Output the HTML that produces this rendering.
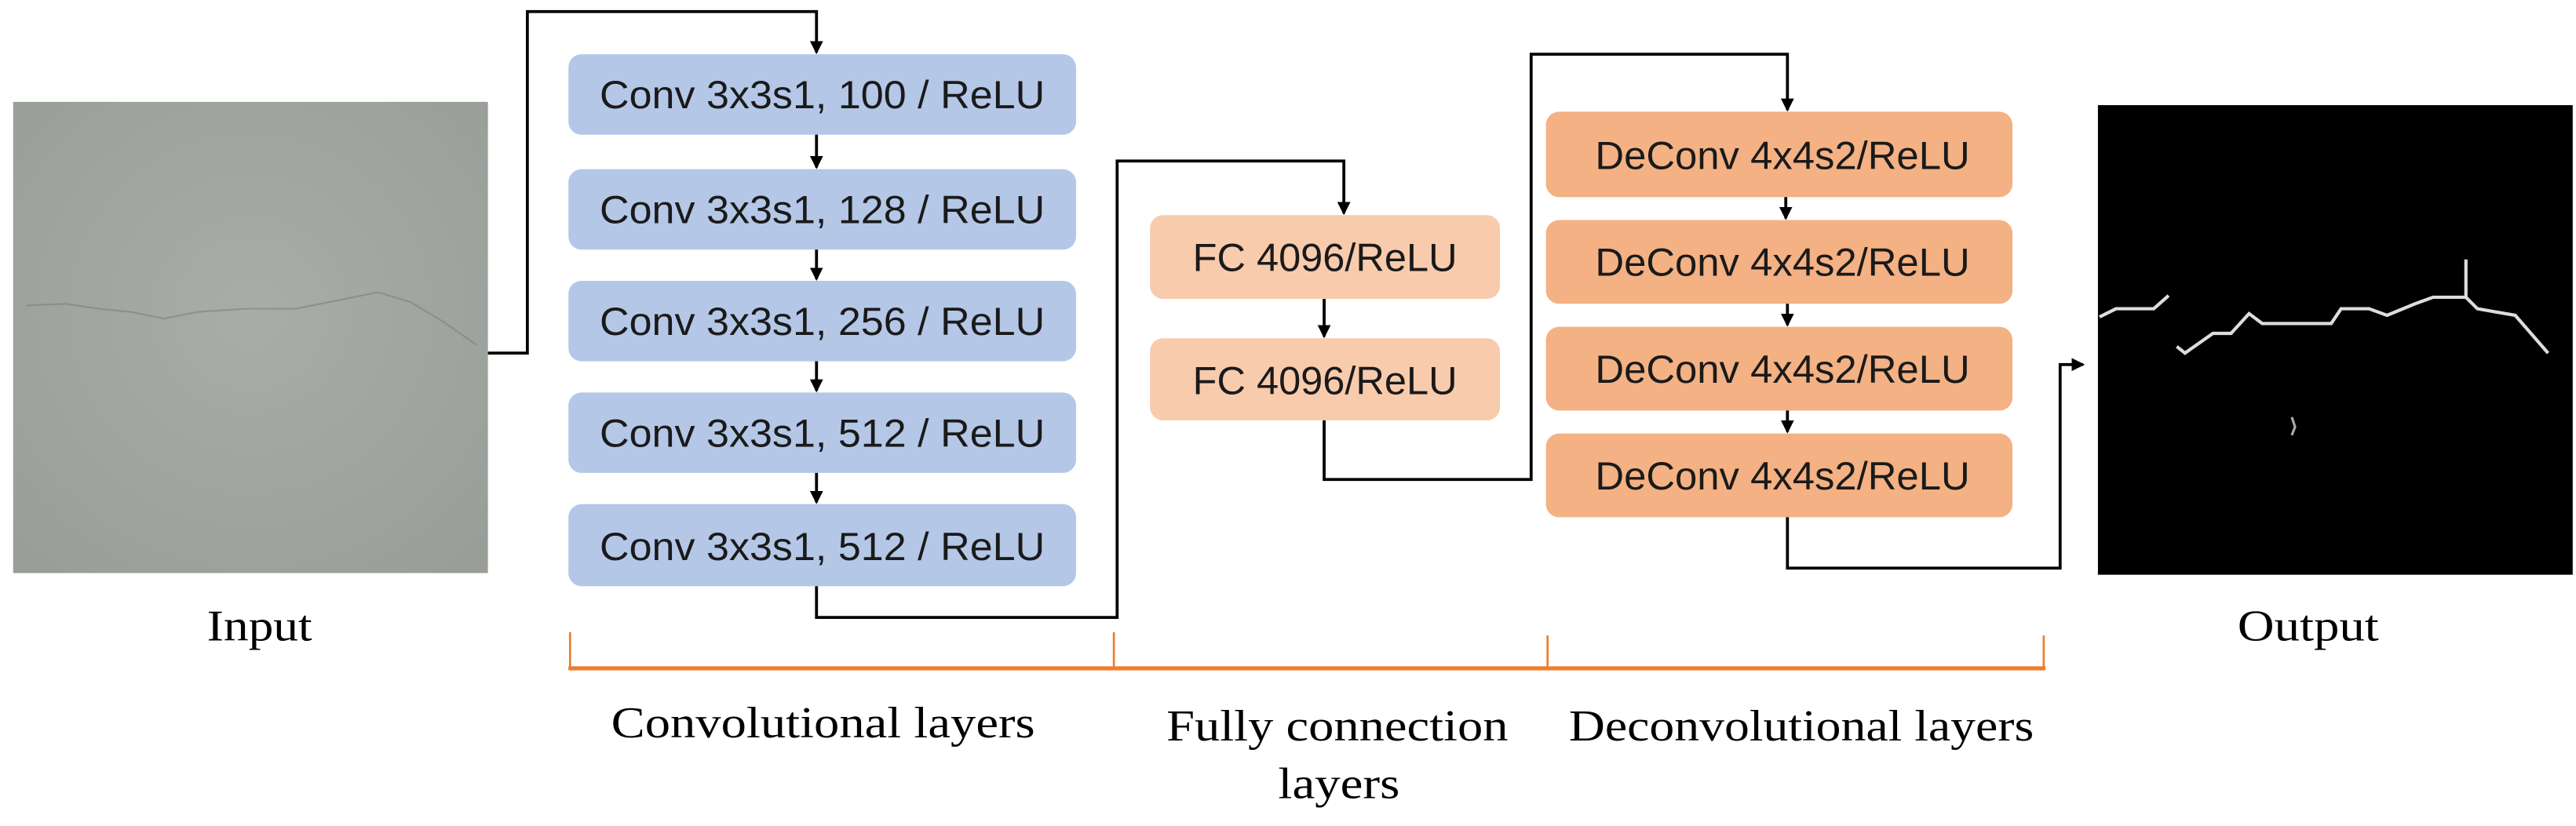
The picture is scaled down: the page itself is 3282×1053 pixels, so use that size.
<!DOCTYPE html>
<html><head><meta charset="utf-8"><style>
html,body{margin:0;padding:0;background:#fff;}
svg{display:block;}
.bx{font-family:"Liberation Sans",sans-serif;font-size:24px;fill:#1a1a1a;}
.lb{font-family:"Liberation Serif",serif;font-size:27px;fill:#000;}
</style></head><body>
<svg width="3282" height="1053" viewBox="0 0 1568 503" xmlns="http://www.w3.org/2000/svg">
<defs>
<marker id="a" markerWidth="8" markerHeight="8" refX="7" refY="4" orient="auto" markerUnits="userSpaceOnUse"><path d="M0,0 L8,4 L0,8 z" fill="#000"/></marker>
<radialGradient id="g" cx="50%" cy="45%" r="70%"><stop offset="0" stop-color="#a9ada8"/><stop offset="1" stop-color="#9a9e99"/></radialGradient>
</defs>
<rect width="1568" height="503" fill="#fff"/>
<!-- input -->
<rect x="8" y="62" width="289" height="287" fill="url(#g)"/>
<polyline points="16,186 40,185 60,188 80,190 100,194 120,190 150,188 180,188 200,184 230,178 250,184 270,196 290,210" fill="none" stroke="#7c807c" stroke-width="1" opacity="0.6"/>
<text class="lb" x="126" y="390" textLength="64" lengthAdjust="spacingAndGlyphs">Input</text>
<!-- output -->
<rect x="1277" y="64" width="289" height="286" fill="#000"/>
<polyline points="1278,193 1288,188 1311,188 1320,180" fill="none" stroke="#ddd" stroke-width="2"/>
<polyline points="1325,211 1330,215 1347,203 1358,203 1369,191 1377,197 1419,197 1425,188 1442,188 1453,192 1470,185 1481,181 1501,181 1501,158" fill="none" stroke="#ddd" stroke-width="2"/>
<polyline points="1501,181 1508,188 1531,192 1551,215" fill="none" stroke="#ddd" stroke-width="2"/>
<polyline points="1395,254 1397,260 1395,265" fill="none" stroke="#aaa" stroke-width="1.5"/>
<text class="lb" x="1362" y="390" textLength="86" lengthAdjust="spacingAndGlyphs">Output</text>
<!-- conv boxes -->
<g fill="#b4c7e7">
<rect x="346" y="33" width="309" height="49" rx="8"/>
<rect x="346" y="103" width="309" height="49" rx="8"/>
<rect x="346" y="171" width="309" height="49" rx="8"/>
<rect x="346" y="239" width="309" height="49" rx="8"/>
<rect x="346" y="307" width="309" height="50" rx="8"/>
</g>
<g class="bx">
<text x="365" y="66" textLength="271" lengthAdjust="spacingAndGlyphs">Conv 3x3s1, 100 / ReLU</text>
<text x="365" y="136" textLength="271" lengthAdjust="spacingAndGlyphs">Conv 3x3s1, 128 / ReLU</text>
<text x="365" y="204" textLength="271" lengthAdjust="spacingAndGlyphs">Conv 3x3s1, 256 / ReLU</text>
<text x="365" y="272" textLength="271" lengthAdjust="spacingAndGlyphs">Conv 3x3s1, 512 / ReLU</text>
<text x="365" y="341" textLength="271" lengthAdjust="spacingAndGlyphs">Conv 3x3s1, 512 / ReLU</text>
</g>
<!-- FC -->
<g fill="#f8cbad">
<rect x="700" y="131" width="213" height="51" rx="8"/>
<rect x="700" y="206" width="213" height="50" rx="8"/>
</g>
<g class="bx">
<text x="726" y="165" textLength="161" lengthAdjust="spacingAndGlyphs">FC 4096/ReLU</text>
<text x="726" y="240" textLength="161" lengthAdjust="spacingAndGlyphs">FC 4096/ReLU</text>
</g>
<!-- deconv -->
<g fill="#f4b183">
<rect x="941" y="68" width="284" height="52" rx="8"/>
<rect x="941" y="134" width="284" height="51" rx="8"/>
<rect x="941" y="199" width="284" height="51" rx="8"/>
<rect x="941" y="264" width="284" height="51" rx="8"/>
</g>
<g class="bx">
<text x="971" y="103" textLength="228" lengthAdjust="spacingAndGlyphs">DeConv 4x4s2/ReLU</text>
<text x="971" y="168" textLength="228" lengthAdjust="spacingAndGlyphs">DeConv 4x4s2/ReLU</text>
<text x="971" y="233" textLength="228" lengthAdjust="spacingAndGlyphs">DeConv 4x4s2/ReLU</text>
<text x="971" y="298" textLength="228" lengthAdjust="spacingAndGlyphs">DeConv 4x4s2/ReLU</text>
</g>
<!-- connectors -->
<g fill="none" stroke="#000" stroke-width="1.8">
<polyline points="297,215 321,215 321,7 497,7 497,32" marker-end="url(#a)"/>
<line x1="497" y1="82" x2="497" y2="102" marker-end="url(#a)"/>
<line x1="497" y1="152" x2="497" y2="170" marker-end="url(#a)"/>
<line x1="497" y1="220" x2="497" y2="238" marker-end="url(#a)"/>
<line x1="497" y1="288" x2="497" y2="306" marker-end="url(#a)"/>
<polyline points="497,357 497,376 680,376 680,98 818,98 818,130" marker-end="url(#a)"/>
<line x1="806" y1="182" x2="806" y2="205" marker-end="url(#a)"/>
<polyline points="806,256 806,292 932,292 932,33 1088,33 1088,67" marker-end="url(#a)"/>
<line x1="1087" y1="120" x2="1087" y2="133" marker-end="url(#a)"/>
<line x1="1088" y1="185" x2="1088" y2="198" marker-end="url(#a)"/>
<line x1="1088" y1="250" x2="1088" y2="263" marker-end="url(#a)"/>
<polyline points="1088,315 1088,346 1254,346 1254,222 1268,222" marker-end="url(#a)"/>
</g>
<!-- bracket -->
<g stroke="#ed7d31" fill="none">
<line x1="346" y1="407" x2="1245" y2="407" stroke-width="2.5"/>
<line x1="347" y1="385" x2="347" y2="408" stroke-width="1.3"/>
<line x1="678" y1="385" x2="678" y2="408" stroke-width="1.3"/>
<line x1="942" y1="387" x2="942" y2="408" stroke-width="1.3"/>
<line x1="1244" y1="387" x2="1244" y2="408" stroke-width="1.3"/>
</g>
<text class="lb" x="372" y="449" textLength="258" lengthAdjust="spacingAndGlyphs">Convolutional layers</text>
<text class="lb" x="710" y="451" textLength="208" lengthAdjust="spacingAndGlyphs">Fully connection</text>
<text class="lb" x="778" y="486" textLength="74" lengthAdjust="spacingAndGlyphs">layers</text>
<text class="lb" x="955" y="451" textLength="283" lengthAdjust="spacingAndGlyphs">Deconvolutional layers</text>
</svg>
</body></html>
